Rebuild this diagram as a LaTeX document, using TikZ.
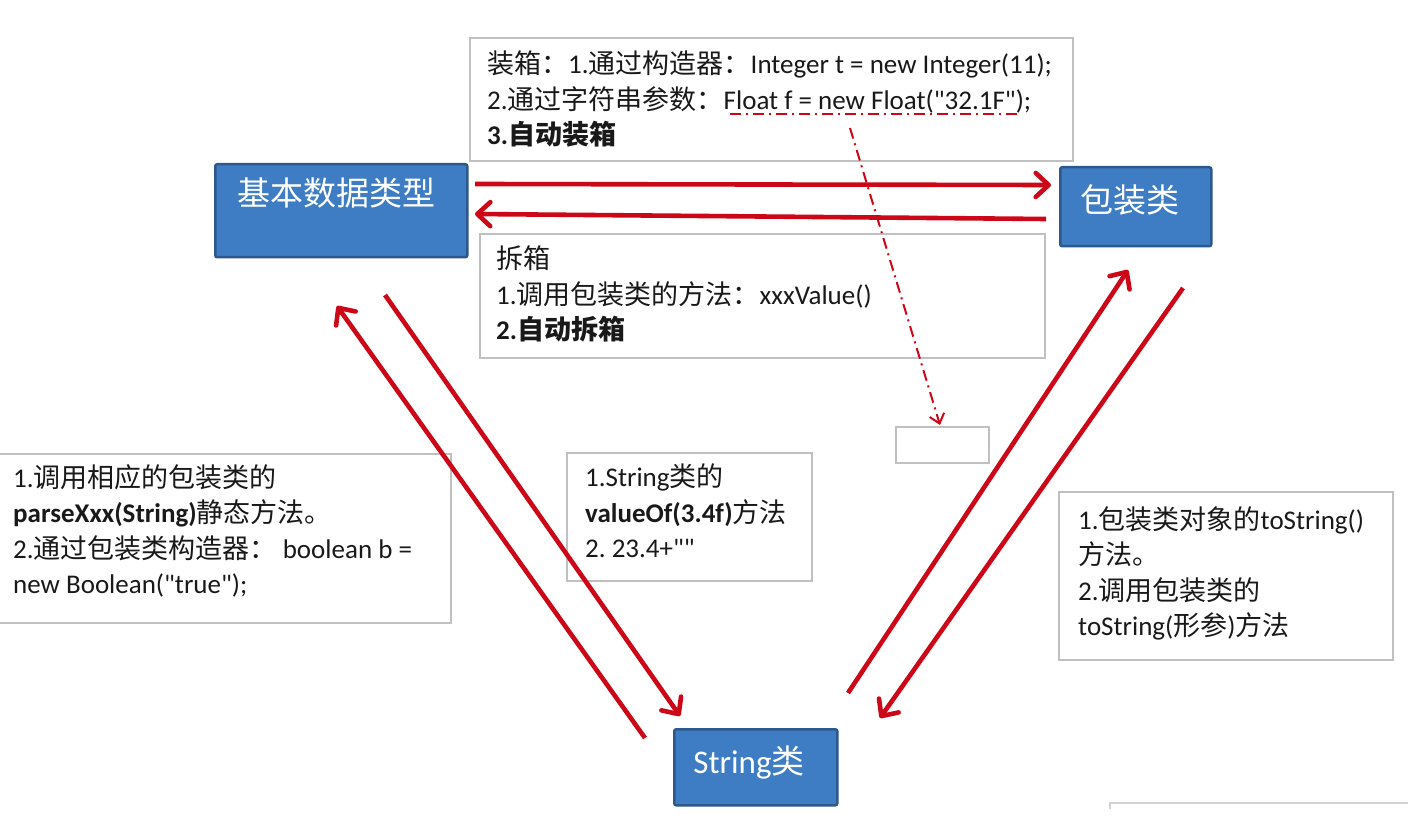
\documentclass[tikz,border=0pt]{standalone}
\usepackage{fontspec}
\setmainfont{Carlito}[Ligatures=TeXOff]
\newfontfamily\cjk{Noto Sans CJK SC}
\newcommand\zh[1]{{\cjk #1}}
\usetikzlibrary{arrows.meta}
\definecolor{boxblue}{RGB}{62,125,195}
\definecolor{boxblueline}{RGB}{44,88,140}
\definecolor{arrred}{RGB}{204,8,24}
\definecolor{graybox}{RGB}{192,192,192}
\definecolor{txt}{RGB}{25,25,25}
\tikzset{
  bluebox/.style={draw=boxblueline, line width=2.5pt, fill=boxblue, rounded corners=2pt},
  graybx/.style={draw=graybox, line width=1.8pt},
  bluetext/.style={text=white, inner sep=0pt, font=\fontsize{33}{36}\selectfont},
  bodytext/.style={text=txt, inner sep=0pt, anchor=north west, align=left, font=\fontsize{27}{35.5}\selectfont\frenchspacing},
  redarrow/.style={draw=arrred, line width=4.6pt, -{Straight Barb[length=13pt,width=24pt,line cap=round,line join=round]}},
  dasharrow/.style={draw=arrred, line width=2pt, dash pattern=on 11pt off 5pt on 2pt off 5pt, -{Straight Barb[length=9pt,width=15pt]}},
  dashline/.style={draw=arrred, line width=2pt, dash pattern=on 11pt off 5pt on 2pt off 5pt},
}
\begin{document}
\begin{tikzpicture}[x=1pt,y=-1pt]
\useasboundingbox (0,0) rectangle (1423,826);
\fill[white] (0,0) rectangle (1423,826);

% gray boxes
\draw[graybx] (470,38) rectangle (1073,161);
\draw[graybx] (480,234) rectangle (1045,358);
\draw[graybx] (-5,454) rectangle (451,623);
\draw[graybx] (567,453) rectangle (812,581);
\draw[graybx] (1059,492) rectangle (1393,660);
\draw[graybx] (896,427) rectangle (989,463);
\draw[draw=graybox!70, line width=1.8pt] (1110,809) -- (1110,803) -- (1408,803);

% blue boxes
\node[bluebox, minimum width=252pt, minimum height=93pt, anchor=north west] (basic) at (214,163) {};
\node[bluetext] (basict) at (336,193) {\zh{基本数据类型}};
\node[bluebox, minimum width=151pt, minimum height=79pt, anchor=north west] (wrap) at (1059,166) {};
\node[bluetext] (wrapt) at (1130,200) {\zh{包装类}};
\node[bluebox, minimum width=163pt, minimum height=76pt, anchor=north west] (str) at (673,728) {};
\node[bluetext] (strt) at (749,762) {String\zh{类}};

% texts
\node[bodytext] (boxing) at (487,51) {\zh{装箱：}1.\zh{通过构造器：}Integer t = new Integer(11);\\
2.\zh{通过字符串参数：}Float f = new Float("32.1F");\\
\textbf{3.\zh{自动装箱}}};
\node[bodytext] (unboxing) at (496,246) {\zh{拆箱}\\
1.\zh{调用包装类的方法：}xxxValue()\\
\textbf{2.\zh{自动拆箱}}};
\node[bodytext] (parse) at (13,464) {1.\zh{调用相应的包装类的}\\
\textbf{parseXxx(String)}\zh{静态方法。}\\
2.\zh{通过包装类构造器：} boolean b =\\
new Boolean("true");};
\node[bodytext] (valueof) at (585,464) {1.String\zh{类的}\\
\textbf{valueOf(3.4f)}\zh{方法}\\
2. 23.4+""};
\node[bodytext] (tostr) at (1078,506) {1.\zh{包装类对象的}toString()\\
\zh{方法。}\\
2.\zh{调用包装类的}\\
toString(\zh{形参})\zh{方法}};

% connector end points
\coordinate (a1s) at (475,184);
\coordinate (a1e) at (1051,185);
\coordinate (a2s) at (1046,219);
\coordinate (a2e) at (475,214);
\coordinate (a3s) at (645,738);
\coordinate (a3e) at (337,306);
\coordinate (a4s) at (385,295);
\coordinate (a4e) at (680,716);
\coordinate (a5s) at (848,693);
\coordinate (a5e) at (1128,270);
\coordinate (a6s) at (1183,288);
\coordinate (a6e) at (880,718);
\coordinate (u1) at (730,114);
\coordinate (u2) at (1020,114);
\coordinate (d1) at (850,128);
\coordinate (d2) at (940,425);

\draw[redarrow] (a1s) -- (a1e);
\draw[redarrow] (a2s) -- (a2e);
\draw[redarrow] (a3s) -- (a3e);
\draw[redarrow] (a4s) -- (a4e);
\draw[redarrow] (a5s) -- (a5e);
\draw[redarrow] (a6s) -- (a6e);
\draw[dashline] (u1) -- (u2);
\draw[dasharrow] (d1) -- (d2);
\end{tikzpicture}
\end{document}
